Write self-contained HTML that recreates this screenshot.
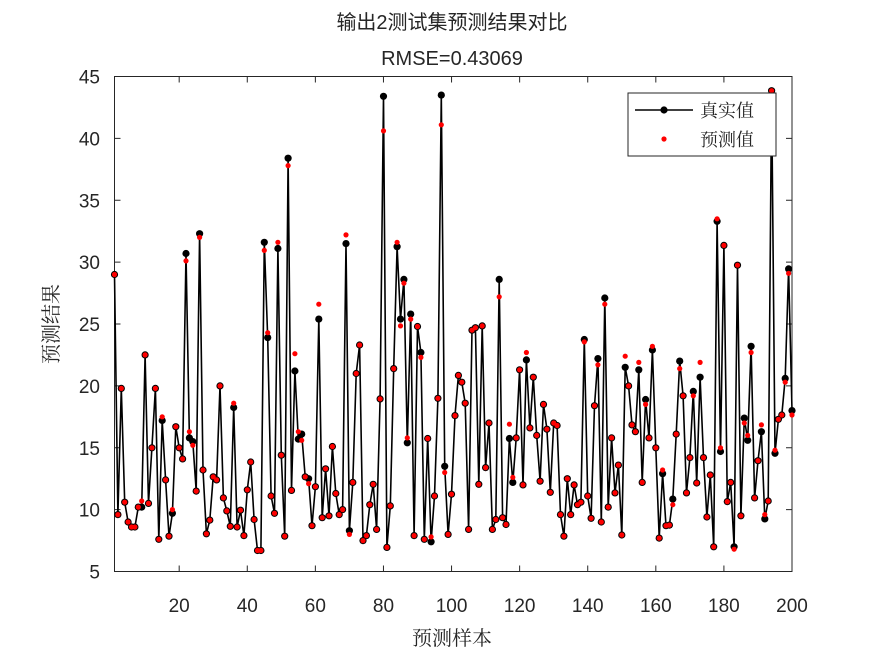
<!DOCTYPE html>
<html><head><meta charset="utf-8"><style>
html,body{margin:0;padding:0;background:#fff;}
svg{display:block;}
text{font-family:"Liberation Sans","Noto Sans CJK SC",sans-serif;fill:#262626;}
.cjk{font-family:"Noto Serif CJK SC","Noto Sans CJK SC",serif;}
.cjks{font-family:"Liberation Sans","Noto Sans CJK SC",sans-serif;}
</style></head><body>
<svg id="s" width="875" height="656" viewBox="0 0 875 656" xmlns="http://www.w3.org/2000/svg">
<rect width="875" height="656" fill="#fff"/>
<text x="452" y="29" font-size="20" text-anchor="middle" class="cjks">输出2测试集预测结果对比</text>
<text x="452" y="65" font-size="20" text-anchor="middle">RMSE=0.43069</text>
<text x="452" y="645" font-size="20" text-anchor="middle" class="cjk">预测样本</text>
<text transform="translate(58,324) rotate(-90)" font-size="20" text-anchor="middle" class="cjk">预测结果</text>
<g id="ax"></g>
<g id="data"></g>
<rect x="628" y="93" width="148" height="63" fill="#fff" stroke="#262626" stroke-width="1"/>
<line x1="635" y1="110" x2="693" y2="110" stroke="#000" stroke-width="1.6"/>
<circle cx="664" cy="110" r="3.6" fill="#000"/>
<circle cx="664" cy="139" r="2.6" fill="#f00"/>
<text x="700" y="117" font-size="18" class="cjk">真实值</text>
<text x="700" y="146" font-size="18" class="cjk">预测值</text>
</svg>
<script>
var A=[29.0,9.6,19.8,10.6,9.0,8.6,8.6,10.2,10.2,22.5,10.5,15.0,19.8,7.6,17.2,12.4,7.85,9.7,16.7,15.0,14.1,30.7,15.8,15.5,11.5,32.3,13.2,8.05,9.15,12.65,12.4,20.0,10.95,9.9,8.65,18.25,8.6,9.95,7.9,11.6,13.85,9.2,6.7,6.7,31.6,23.9,11.1,9.7,31.1,14.4,7.85,38.4,11.55,21.2,15.7,16.1,12.65,12.5,8.7,11.85,25.4,9.35,13.3,9.5,15.1,11.3,9.6,10.0,31.5,8.3,12.2,21.0,23.3,7.5,7.9,10.4,12.05,8.4,18.95,43.4,6.95,10.3,21.4,31.25,25.4,28.6,15.4,25.8,7.9,24.8,22.7,7.6,15.75,7.4,11.1,19.0,43.5,13.5,8.0,11.25,
17.6,20.85,20.3,18.6,8.4,24.5,24.7,12.05,24.85,13.4,17.0,8.4,9.2,28.6,9.35,8.8,15.75,12.2,15.8,21.3,12.0,22.1,16.6,20.7,16.0,12.3,18.5,16.5,11.4,17.0,16.8,9.6,7.85,12.5,9.6,12.0,10.4,10.6,23.75,11.1,9.3,18.4,22.2,9.0,27.1,10.2,
15.8,11.35,13.6,7.95,21.5,20.0,16.85,16.3,21.3,12.2,18.9,15.8,22.9,15.0,7.7,12.9,8.7,8.75,10.85,16.1,22.0,19.2,11.35,14.2,19.55,12.15,20.7,14.2,9.4,12.8,7.0,33.3,14.7,31.35,10.65,12.2,7.0,29.75,9.5,17.4,15.6,23.2,10.95,13.95,16.3,9.25,10.7,43.85,14.55,17.3,17.65,20.6,29.45,18.0];
var O={9:10.7,15:17.5,18:10,22:30.1,23:16.3,24:15.2,26:32.0,36:18.6,45:30.95,46:24.3,49:31.6,52:37.8,54:22.6,55:16.3,56:15.6,58:12.1,61:26.6,69:32.2,70:8.0,80:40.6,84:31.6,85:24.85,86:28.3,87:15.8,88:25.4,91:22.3,94:7.8,97:41.1,98:13.0,114:27.2,117:16.9,118:12.6,122:22.7,139:23.55,143:21.7,145:26.6,151:22.4,155:21.9,157:18.5,159:23.2,162:13.2,165:10.4,167:21.4,171:19.2,173:21.9,178:33.5,179:15.0,183:6.8,186:17.0,187:16.0,188:22.7,191:16.85,192:9.6,195:14.8,198:20.3,199:29.1,200:17.65};
var L=114.5,R=792,T=76.5,B=571.5;
function X(i){return L+(i-1)*(R-L)/199;}
function Y(v){return T+(45-v)*(B-T)/40;}
var s="";
var pts=[];for(var i=0;i<A.length&&i<200;i++)pts.push(X(i+1).toFixed(1)+","+Y(A[i]).toFixed(1));
s+='<polyline points="'+pts.join(" ")+'" fill="none" stroke="#000" stroke-width="1.6" stroke-linejoin="round"/>';
for(var i=0;i<A.length&&i<200;i++)s+='<circle cx="'+X(i+1).toFixed(1)+'" cy="'+Y(A[i]).toFixed(1)+'" r="3.6" fill="#000"/>';
for(var i=0;i<A.length&&i<200;i++){var p=O[i+1]!==undefined?O[i+1]:A[i];s+='<circle cx="'+X(i+1).toFixed(1)+'" cy="'+Y(p).toFixed(1)+'" r="2.6" fill="#f00"/>';}
document.getElementById("data").innerHTML=s;
var a='<rect x="'+L+'" y="'+T+'" width="'+(R-L)+'" height="'+(B-T)+'" fill="none" stroke="#262626" stroke-width="1"/>';
for(var t=20;t<=200;t+=20){var x=X(t);a+='<line x1="'+x+'" y1="'+B+'" x2="'+x+'" y2="'+(B-6)+'" stroke="#262626"/><line x1="'+x+'" y1="'+T+'" x2="'+x+'" y2="'+(T+6)+'" stroke="#262626"/><text x="'+x+'" y="612" font-size="19" text-anchor="middle">'+t+'</text>';}
for(var v=5;v<=45;v+=5){var y=Y(v);a+='<line x1="'+L+'" y1="'+y+'" x2="'+(L+6)+'" y2="'+y+'" stroke="#262626"/><line x1="'+R+'" y1="'+y+'" x2="'+(R-6)+'" y2="'+y+'" stroke="#262626"/><text x="100" y="'+(y+7)+'" font-size="19" text-anchor="end">'+v+'</text>';}
document.getElementById("ax").innerHTML=a;
</script>
</body></html>
